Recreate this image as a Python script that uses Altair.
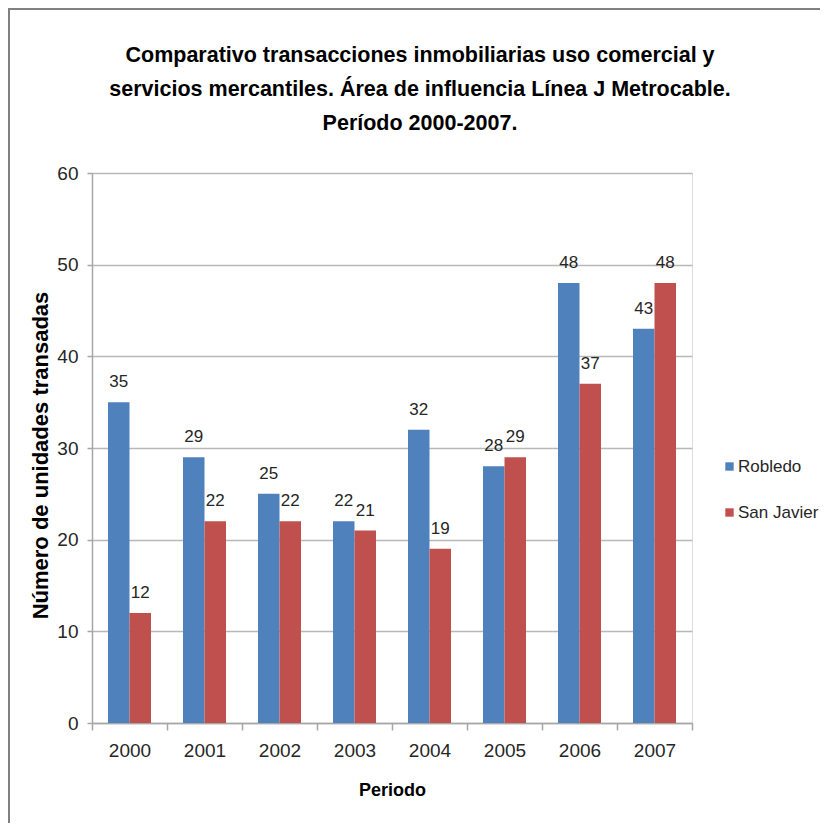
import altair as alt
import pandas as pd

years = ["2000", "2001", "2002", "2003", "2004", "2005", "2006", "2007"]
series = ["Robledo", "San Javier"]
robledo = [35, 29, 25, 22, 32, 28, 48, 43]
san_javier = [12, 22, 22, 21, 19, 29, 37, 48]
colors = ["#4F81BD", "#C0504D"]
y_ticks = [0, 10, 20, 30, 40, 50, 60]

rows = []
for i, yr in enumerate(years):
    rows.append({"year": yr, "serie": series[0], "valor": robledo[i]})
    rows.append({"year": yr, "serie": series[1], "valor": san_javier[i]})
df = pd.DataFrame(rows)

FONT = "Liberation Sans"

x_axis = alt.Axis(
    title="Periodo",
    labelAngle=0,
    tickBand="extent",
    grid=False,
    domainColor="#A6A6A6",
    domainWidth=1.5,
    tickColor="#A6A6A6",
    tickWidth=1.5,
    tickSize=7,
    labelPadding=11,
    labelFont=FONT,
    labelFontSize=19,
    labelColor="#262626",
    titleFont=FONT,
    titleFontSize=18,
    titleFontWeight="bold",
    titleColor="#000000",
    titleY=72,
    titleBaseline="alphabetic",
)
x_enc = alt.X(
    "year:N",
    sort=years,
    scale=alt.Scale(paddingInner=0, paddingOuter=0),
    axis=x_axis,
)
xo_enc = alt.XOffset(
    "serie:N",
    sort=series,
    scale=alt.Scale(paddingInner=0, paddingOuter=0.744),
)
y_axis = alt.Axis(
    title="Número de unidades transadas",
    values=y_ticks,
    grid=True,
    gridColor="#B8B8B8",
    gridWidth=1.5,
    domainColor="#A6A6A6",
    domainWidth=1.5,
    tickColor="#A6A6A6",
    tickWidth=1.5,
    tickSize=5,
    labelPadding=9,
    labelFont=FONT,
    labelFontSize=19,
    labelColor="#262626",
    titleFont=FONT,
    titleFontSize=22,
    titleFontWeight="bold",
    titleColor="#000000",
    titleX=-40,
    titleY=282,
    titleBaseline="bottom",
    titleAngle=270,
)
y_enc = alt.Y(
    "valor:Q",
    scale=alt.Scale(domain=[0, 60], nice=False),
    axis=y_axis,
)
color_enc = alt.Color(
    "serie:N",
    sort=series,
    scale=alt.Scale(domain=series, range=colors),
    legend=alt.Legend(
        title=None,
        orient="none",
        legendX=629,
        legendY=285,
        symbolType="square",
        symbolSize=70,
        symbolStrokeWidth=0,
        labelFont=FONT,
        labelFontSize=17,
        labelColor="#262626",
        labelOffset=0,
        rowPadding=28,
    ),
)

bars = alt.Chart(df).mark_bar(size=21.5).encode(
    x=x_enc, xOffset=xo_enc, y=y_enc, color=color_enc
)

labels = alt.Chart(df).mark_text(
    baseline="alphabetic", dy=-15, font=FONT, fontSize=17, color="#262626"
).encode(
    x=alt.X("year:N", sort=years, axis=x_axis),
    xOffset=alt.XOffset("serie:N", sort=series),
    y=alt.Y("valor:Q", axis=y_axis),
    text="valor:Q",
)

frame_top = alt.Chart(df).mark_rule(color="#808080", strokeWidth=2).encode(
    x=alt.value(-86), x2=alt.value(740), y=alt.value(-164), y2=alt.value(-164)
)
frame_left = alt.Chart(df).mark_rule(color="#808080", strokeWidth=2).encode(
    x=alt.value(-83), x2=alt.value(-83), y=alt.value(-164), y2=alt.value(670)
)

chart = (
    alt.layer(bars, labels, frame_top, frame_left)
    .properties(
        width=600,
        height=550,
        autosize=alt.AutoSizeParams(type="none"),
        padding={"left": 84, "top": 165, "right": 128, "bottom": 100},
        title=alt.TitleParams(
            text=[
                "Comparativo transacciones inmobiliarias uso comercial y",
                "servicios mercantiles. Área de influencia Línea J Metrocable.",
                "Período 2000-2007.",
            ],
            font=FONT,
            fontSize=21.5,
            fontWeight="bold",
            color="#000000",
            anchor="middle",
            dx=28,
            lineHeight=34,
            baseline="top",
            offset=-126,
        ),
    )
    .configure_view(stroke="transparent", strokeWidth=0)
    .configure(background="white")
)

chart.save("out.html", embed_options={"renderer": "svg", "actions": False})
